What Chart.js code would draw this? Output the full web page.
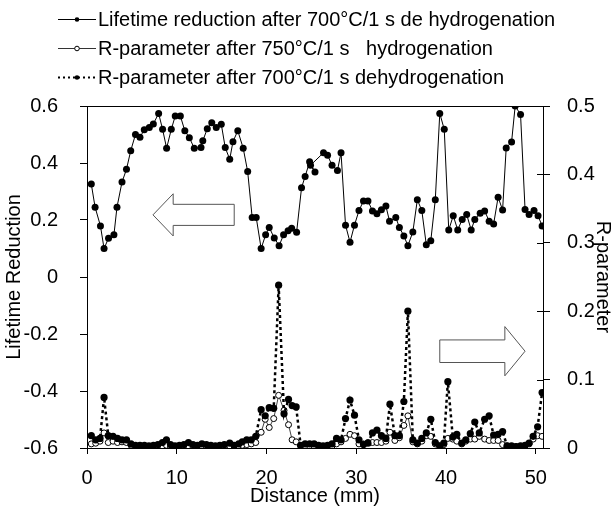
<!DOCTYPE html>
<html><head><meta charset="utf-8">
<script src="https://cdn.jsdelivr.net/npm/chart.js@4/dist/chart.umd.min.js"></script>
<style>html,body{margin:0;padding:0;background:#fff}canvas{display:block}</style>
</head><body>
<canvas id="c" width="616" height="508" style="width:616px;height:508px"></canvas>
<script>
// ---- data ----
const lifeX = [0.48,0.9,1.5,1.9,2.4,3.0,3.34,3.9,4.4,4.87,5.4,5.9,6.38,6.94,7.39,7.98,8.42,8.87,9.39,9.83,10.4,10.9,11.4,11.95,12.7,12.9,13.4,13.9,14.4,14.96,15.4,15.9,16.26,16.8,17.4,17.9,18.4,18.85,19.4,19.9,20.3,20.86,21.4,21.9,22.4,22.8,23.35,23.9,24.3,24.8,25.4,24.9,26.35,26.8,27.3,27.9,28.3,28.8,29.3,29.8,30.3,30.8,31.3,31.8,32.3,32.8,33.3,33.7,34.4,34.8,35.3,35.75,36.3,36.8,37.3,37.8,38.3,38.8,39.3,39.8,40.3,40.8,41.3,41.8,42.3,42.8,43.2,43.8,44.3,44.8,45.3,45.8,46.3,46.7,47.3,47.7,48.3,48.8,49.25,49.8,50.25,50.7];
const lifeV = [0.326,0.245,0.179,0.10,0.136,0.148,0.245,0.333,0.378,0.443,0.50,0.49,0.517,0.525,0.537,0.574,0.518,0.452,0.518,0.565,0.565,0.513,0.489,0.452,0.454,0.478,0.52,0.541,0.525,0.536,0.454,0.413,0.475,0.513,0.452,0.37,0.209,0.209,0.10,0.148,0.174,0.137,0.11,0.148,0.162,0.171,0.157,0.313,0.353,0.404,0.368,0.392,0.436,0.427,0.392,0.374,0.436,0.182,0.122,0.182,0.233,0.267,0.267,0.232,0.222,0.236,0.249,0.196,0.209,0.174,0.144,0.11,0.158,0.271,0.233,0.113,0.127,0.271,0.574,0.518,0.165,0.215,0.165,0.202,0.219,0.165,0.202,0.224,0.232,0.196,0.186,0.28,0.235,0.453,0.474,0.60,0.57,0.237,0.219,0.233,0.215,0.179];
const rX = [0.48,0.97,1.45,1.9,2.37,2.9,3.4,3.9,4.4,4.9,5.4,5.9,6.4,6.9,7.4,7.9,8.4,8.85,9.3,9.8,10.3,10.8,11.3,11.8,12.3,12.8,13.3,13.8,14.3,14.8,15.3,15.9,16.4,16.9,17.3,17.8,18.3,18.8,19.4,19.85,20.3,20.8,21.35,21.95,22.45,22.85,23.3,23.8,24.3,24.8,25.3,25.8,26.3,26.8,27.3,27.8,28.3,28.8,29.3,29.8,30.3,30.8,31.3,31.8,32.3,32.8,33.3,33.75,34.3,34.8,35.3,35.75,36.3,36.8,37.3,37.8,38.3,38.8,39.3,39.75,40.2,40.75,41.2,41.75,42.2,42.7,43.2,43.7,44.3,44.8,45.3,45.8,46.3,46.8,47.3,47.8,48.3,48.8,49.25,49.7,50.2,50.7];
const r700 = [0.018,0.012,0.014,0.074,0.018,0.017,0.014,0.012,0.012,0.006,0.004,0.004,0.004,0.003,0.004,0.005,0.008,0.012,0.005,0.003,0.004,0.005,0.008,0.005,0.004,0.006,0.005,0.004,0.003,0.004,0.005,0.007,0.004,0.006,0.009,0.012,0.012,0.017,0.056,0.047,0.059,0.058,0.238,0.05,0.071,0.062,0.06,0.004,0.006,0.006,0.006,0.004,0.003,0.004,0.006,0.014,0.012,0.043,0.07,0.048,0.012,0.005,0.007,0.022,0.026,0.018,0.014,0.064,0.018,0.018,0.068,0.2,0.012,0.007,0.014,0.022,0.042,0.008,0.003,0.007,0.097,0.016,0.02,0.007,0.012,0.021,0.038,0.022,0.042,0.047,0.019,0.02,0.024,0.003,0.003,0.002,0.003,0.004,0.007,0.017,0.031,0.081];
const r750 = [0.006,0.007,0.01,0.022,0.008,0.01,0.008,0.009,0.008,0.004,0.003,0.002,0.002,0.002,0.002,0.003,0.003,0.004,0.002,0.002,0.002,0.002,0.003,0.002,0.002,0.003,0.002,0.002,0.002,0.002,0.002,0.003,0.002,0.003,0.004,0.005,0.006,0.008,0.023,0.042,0.03,0.043,0.077,0.055,0.034,0.012,0.009,0.003,0.003,0.003,0.003,0.002,0.002,0.002,0.003,0.006,0.009,0.014,0.02,0.018,0.006,0.006,0.008,0.008,0.008,0.008,0.01,0.023,0.011,0.015,0.033,0.047,0.009,0.006,0.01,0.018,0.017,0.006,0.003,0.005,0.014,0.013,0.01,0.006,0.01,0.013,0.013,0.017,0.013,0.011,0.011,0.011,0.005,0.003,0.002,0.002,0.002,0.003,0.006,0.013,0.018,0.017];
const xTicks = [0,10,20,30,40,50];
const yLeftTicks = [-0.6,-0.4,-0.2,0,0.2,0.4,0.6];
const yLeftLabels = ['-0.6','-0.4','-0.2','0','0.2','0.4','0.6'];
const yRightTicks = [0,0.1,0.2,0.3,0.4,0.5];
const yRightLabels = ['0','0.1','0.2','0.3','0.4','0.5'];
const seriesNames = [
  'Lifetime reduction after 700°C/1 s de hydrogenation',
  'R-parameter after 750°C/1 s   hydrogenation',
  'R-parameter after 700°C/1 s dehydrogenation'
];
const xTitle = 'Distance (mm)';
const yLeftTitle = 'Lifetime Reduction';
const yRightTitle = 'R-parameter';
// arrows, in data units: [tipX, headBaseX, tailX, centerY, shaftHalf, headHalf]
const leftArrow = [7.35, 9.6, 16.4, 0.218, 0.037, 0.074];
const rightArrow = [48.8, 46.55, 39.3, 0.1415, 0.0165, 0.036];

const FONT = "'Liberation Sans', Arial, sans-serif";
const pts = (xs, ys) => xs.map((x, i) => ({x, y: ys[i]}));

const decor = {
  id: 'decor',
  afterDraw(chart) {
    const ctx = chart.ctx, a = chart.chartArea;
    const xs = chart.scales.x, yl = chart.scales.y, yr = chart.scales.y2;
    ctx.save();
    // top border
    ctx.strokeStyle = '#000'; ctx.lineWidth = 1;
    ctx.beginPath(); ctx.moveTo(a.left, a.top + 0.5); ctx.lineTo(a.right, a.top + 0.5); ctx.stroke();
    // inward part of right ticks
    yRightTicks.forEach(v => {
      const y = Math.round(yr.getPixelForValue(v)) + 0.5;
      ctx.beginPath(); ctx.moveTo(a.right - 6, y); ctx.lineTo(a.right, y); ctx.stroke();
    });
    // arrows
    ctx.strokeStyle = '#555'; ctx.fillStyle = '#fff'; ctx.lineWidth = 1;
    const arrow = (ar, scale) => {
      const [tip, base, tail, cy, sh, hh] = ar;
      const X = v => xs.getPixelForValue(v), Y = v => scale.getPixelForValue(v);
      ctx.beginPath();
      ctx.moveTo(X(tip), Y(cy));
      ctx.lineTo(X(base), Y(cy + hh));
      ctx.lineTo(X(base), Y(cy + sh));
      ctx.lineTo(X(tail), Y(cy + sh));
      ctx.lineTo(X(tail), Y(cy - sh));
      ctx.lineTo(X(base), Y(cy - sh));
      ctx.lineTo(X(base), Y(cy - hh));
      ctx.closePath(); ctx.fill(); ctx.stroke();
    };
    arrow(leftArrow, yl);
    arrow(rightArrow, yr);
    // legend
    const lx0 = 58, lx1 = 96, tx = 98, rows = [19, 48, 77];
    ctx.font = '20px ' + FONT; ctx.textBaseline = 'middle'; ctx.fillStyle = '#000';
    rows.forEach((y, i) => {
      ctx.save();
      ctx.strokeStyle = i === 1 ? '#333' : '#000';
      ctx.lineWidth = i === 2 ? 2 : 1;
      if (i === 2) ctx.setLineDash([2, 3]);
      ctx.beginPath(); ctx.moveTo(lx0, y + 0.5); ctx.lineTo(lx1, y + 0.5); ctx.stroke();
      ctx.restore();
      ctx.beginPath(); ctx.arc((lx0 + lx1) / 2, y + 0.5, 2.3, 0, Math.PI * 2);
      if (i === 1) { ctx.fillStyle = '#fff'; ctx.fill(); ctx.strokeStyle = '#000'; ctx.lineWidth = 1; ctx.stroke(); }
      else { ctx.fillStyle = '#000'; ctx.fill(); }
      ctx.fillStyle = '#000';
      ctx.fillText(seriesNames[i], tx, y + 1);
    });
    ctx.restore();
  }
};

const tickFont = {family: FONT, size: 20};
new Chart(document.getElementById('c'), {
  type: 'line',
  data: {
    datasets: [
      {
        label: seriesNames[0], data: pts(lifeX, lifeV), yAxisID: 'y',
        borderColor: '#000', borderWidth: 1, pointRadius: 3.5, pointBackgroundColor: '#000',
        pointBorderColor: '#000', pointBorderWidth: 0, tension: 0
      },
      {
        label: seriesNames[2], data: pts(rX, r700), yAxisID: 'y2',
        borderColor: '#000', borderWidth: 2.5, borderDash: [3, 3], pointRadius: 3.6,
        pointBackgroundColor: '#000', pointBorderColor: '#000', pointBorderWidth: 0, tension: 0
      },
      {
        label: seriesNames[1], data: pts(rX, r750), yAxisID: 'y2',
        borderColor: '#444', borderWidth: 1, pointRadius: 3, pointBackgroundColor: '#fff',
        pointBorderColor: '#000', pointBorderWidth: 1, tension: 0
      }
    ]
  },
  options: {
    responsive: false, animation: false, devicePixelRatio: 1,
    layout: {padding: {top: 106, left: 0, right: 0, bottom: 0}},
    plugins: {legend: {display: false}, tooltip: {enabled: false}},
    scales: {
      x: {
        type: 'linear', min: 0, max: 50.8,
        afterBuildTicks: s => { s.ticks = xTicks.map(v => ({value: v})); },
        afterFit: s => { s.height = 60; s.paddingLeft = 0; s.paddingRight = 0; },
        ticks: {font: tickFont, color: '#000', padding: 12, maxRotation: 0, callback: v => String(v)},
        grid: {display: true, drawOnChartArea: false, drawTicks: true, tickLength: 6, color: '#000'},
        border: {display: true, color: '#000', width: 1},
        title: {display: true, text: xTitle, font: tickFont, color: '#000', padding: {top: 0, bottom: 0}}
      },
      y: {
        type: 'linear', position: 'left', min: -0.6, max: 0.6,
        afterBuildTicks: s => { s.ticks = yLeftTicks.map(v => ({value: v})); },
        afterFit: s => { s.width = 87; s.paddingTop = 0; s.paddingBottom = 0; },
        ticks: {font: tickFont, color: '#000', padding: 22, callback: (v, i) => yLeftLabels[i]},
        grid: {display: true, drawOnChartArea: false, drawTicks: true, tickLength: 7, color: '#000'},
        border: {display: true, color: '#000', width: 1},
        title: {display: true, text: yLeftTitle, font: tickFont, color: '#000', padding: {top: 2, bottom: 0}}
      },
      y2: {
        type: 'linear', position: 'right', min: 0, max: 0.5,
        afterBuildTicks: s => { s.ticks = yRightTicks.map(v => ({value: v})); },
        afterFit: s => { s.width = 73; s.paddingTop = 0; s.paddingBottom = 0; },
        ticks: {font: tickFont, color: '#000', padding: 17, callback: (v, i) => yRightLabels[i]},
        grid: {display: true, drawOnChartArea: false, drawTicks: true, tickLength: 7, color: '#000'},
        border: {display: true, color: '#000', width: 1},
        title: {display: true, text: yRightTitle, font: tickFont, color: '#000', padding: {top: 1, bottom: 0}}
      }
    }
  },
  plugins: [decor]
});
</script>
</body></html>
